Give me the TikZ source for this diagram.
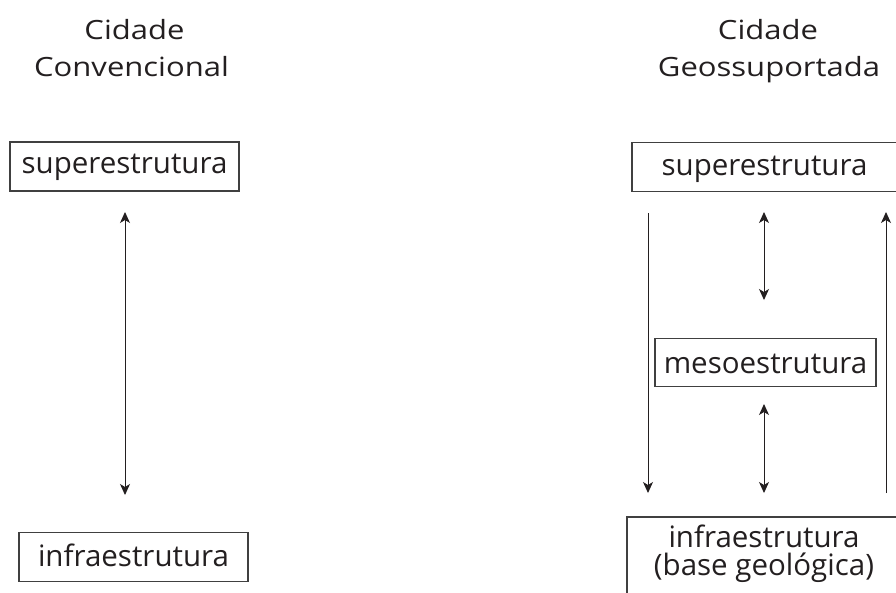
\documentclass[tikz,border=0pt]{standalone}
\usepackage{fontspec}
\setmainfont{Open Sans}
\newfontfamily\headfont{Open Sans}[FakeStretch=1.17]
\usetikzlibrary{arrows.meta}
\definecolor{ink}{HTML}{231F20}
\definecolor{frame}{HTML}{404040}
% two centred lines with a fixed baseline distance; the box baseline is the first line
\newcommand\twolines[2]{\vtop{\baselineskip=28.5pt \lineskiplimit=-100pt
  \halign{\hfil##\hfil\cr #1\cr #2\cr}}}
\tikzset{
  label/.style={font=\headfont\fontsize{26.5}{37}\selectfont, text=ink, inner sep=0pt, anchor=base},
  levelbox/.style={draw=frame, line width=1.15pt, font=\fontsize{29.5}{28.5}\selectfont,
    text=ink, inner sep=0pt, text depth=7pt},
  link/.style={draw=ink, line width=1pt, >={Stealth[length=11pt, width=10pt, inset=3pt]}},
}
\begin{document}
\begin{tikzpicture}[x=1pt, y=-1pt]
  \useasboundingbox (0,0) rectangle (896,592);

  % column titles
  \node[label] (tl1) at (134.5,39) {Cidade};
  \node[label] (tl2) at (131.5,76) {Convencional};
  \node[label] (tr1) at (768,39) {Cidade};
  \node[label] (tr2) at (769,76) {Geossuportada};

  % conventional city
  \node[levelbox, minimum width=229pt, minimum height=49pt, text height=20.6pt] (supL) at (124.5,166.5) {superestrutura};
  \node[levelbox, minimum width=229pt, minimum height=49pt, text height=26pt] (infL) at (133.5,557.2) {infraestrutura};
  \coordinate (aL1) at (125,212);
  \coordinate (aL2) at (125,495);
  \draw[link, <->] (aL1) -- (aL2);

  % geo-supported city
  \node[levelbox, minimum width=265pt, minimum height=49pt, text height=22.6pt] (supR) at (764.5,167.2) {superestrutura};
  \node[levelbox, minimum width=221pt, minimum height=48pt, text height=29.2pt] (mesR) at (765.5,362.2) {mesoestrutura};
  \node[levelbox, minimum width=274pt, minimum height=95pt, text height=0pt, text depth=35pt] (infR) at (764,564.5)
    {\twolines{infraestrutura}{(base geológica)}};

  \coordinate (d1) at (648,213);
  \coordinate (d2) at (648,493);
  \coordinate (m1) at (764,212);
  \coordinate (m2) at (764,300);
  \coordinate (m3) at (764,404);
  \coordinate (m4) at (764,493);
  \coordinate (u1) at (886,493);
  \coordinate (u2) at (886,212);
  \draw[link, ->] (d1) -- (d2);
  \draw[link, <->] (m1) -- (m2);
  \draw[link, <->] (m3) -- (m4);
  \draw[link, ->] (u1) -- (u2);
\end{tikzpicture}
\end{document}
